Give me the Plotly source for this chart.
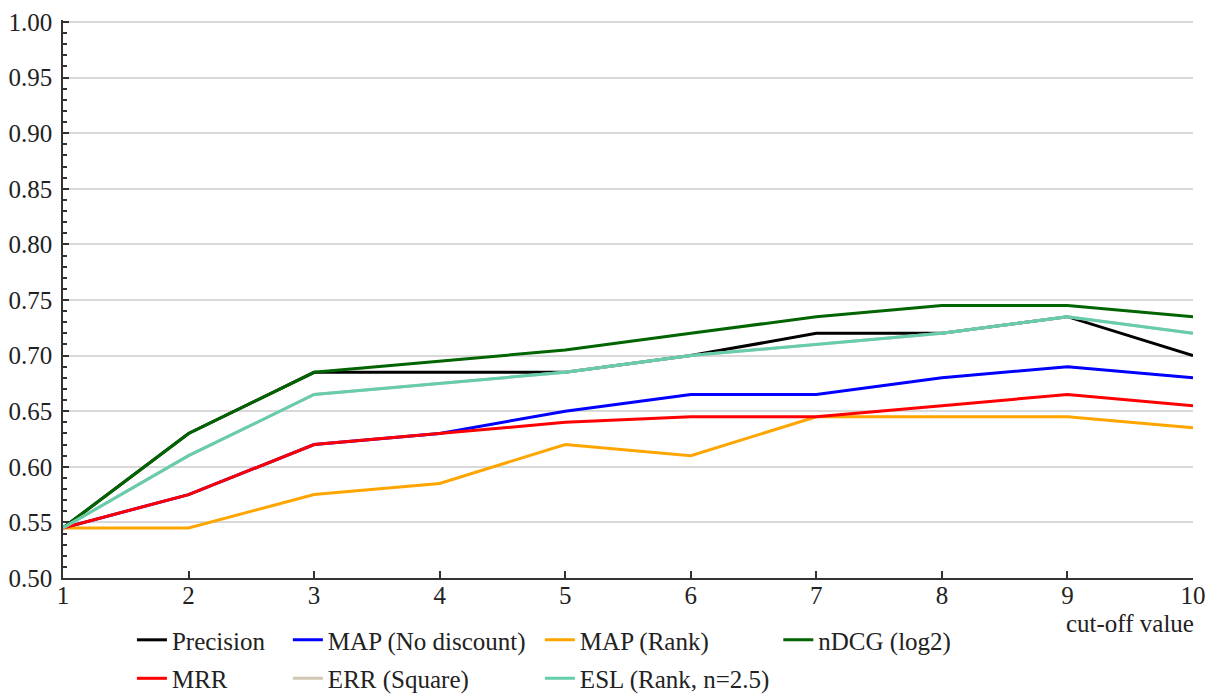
import plotly.graph_objects as go

cutoff = [1, 2, 3, 4, 5, 6, 7, 8, 9, 10]

precision = [0.545, 0.63, 0.685, 0.685, 0.685, 0.70, 0.72, 0.72, 0.735, 0.70]
map_nodisc = [0.545, 0.575, 0.62, 0.63, 0.65, 0.665, 0.665, 0.68, 0.69, 0.68]
map_rank = [0.545, 0.545, 0.575, 0.585, 0.62, 0.61, 0.645, 0.645, 0.645, 0.635]
ndcg = [0.545, 0.63, 0.685, 0.695, 0.705, 0.72, 0.735, 0.745, 0.745, 0.735]
mrr = [0.545, 0.575, 0.62, 0.63, 0.64, 0.645, 0.645, 0.655, 0.665, 0.655]
err_sq = [0.545, 0.61, 0.665, 0.675, 0.685, 0.70, 0.71, 0.72, 0.735, 0.72]
esl = [0.545, 0.61, 0.665, 0.675, 0.685, 0.70, 0.71, 0.72, 0.735, 0.72]

names = ["Precision", "MAP (No discount)", "MAP (Rank)", "nDCG (log2)",
         "MRR", "ERR (Square)", "ESL (Rank, n=2.5)"]
series = [precision, map_nodisc, map_rank, ndcg, mrr, err_sq, esl]
colors = ["#000000", "#0000ff", "#ffa500", "#006400", "#ff0000", "#d2c8b4", "#66cdaa"]
# legend column for each series (4 columns, 2 rows like the original)
legend_of = ["legend", "legend2", "legend3", "legend4", "legend", "legend2", "legend3"]

y_ticks = [0.50, 0.55, 0.60, 0.65, 0.70, 0.75, 0.80, 0.85, 0.90, 0.95, 1.00]

FONT = "Liberation Serif, Times New Roman, serif"
FS = 25

fig = go.Figure()
for name, ys, c, lg in zip(names, series, colors, legend_of):
    fig.add_trace(go.Scatter(x=cutoff, y=ys, name=name, mode="lines",
                             line=dict(color=c, width=3),
                             legend=lg, legendgroup=name))

leg = dict(orientation="v", yanchor="top", y=-0.07, xanchor="left",
           traceorder="grouped", tracegroupgap=3, bgcolor="rgba(0,0,0,0)",
           font=dict(family=FONT, size=FS, color="#222"))

# page body has an 8px offset, so the figure is 8px smaller than the window
fig.update_layout(
    width=1207, height=687,
    margin=dict(l=55, r=22, t=12, b=117, autoexpand=False),
    plot_bgcolor="white", paper_bgcolor="white",
    font=dict(family=FONT, size=FS, color="#222"),
    legend=dict(leg, x=0.061),
    legend2=dict(leg, x=0.199),
    legend3=dict(leg, x=0.422),
    legend4=dict(leg, x=0.633),
    xaxis=dict(range=[1, 10], dtick=1, showgrid=False, zeroline=False,
               showline=True, linecolor="#333", linewidth=1.5,
               ticks="inside", ticklen=7, tickcolor="#333", tickwidth=1.5,
               ticklabelstandoff=-6,
               tickfont=dict(family=FONT, size=FS, color="#222")),
    yaxis=dict(range=[0.5, 1.0018], tickvals=y_ticks, tickformat=".2f",
               showgrid=True, gridcolor="#d9d9d9", gridwidth=1.5, zeroline=False,
               showline=True, linecolor="#333", linewidth=1.5,
               ticks="inside", ticklen=6, tickcolor="#333", tickwidth=1.5,
               ticklabelstandoff=4,
               minor=dict(dtick=0.01, tick0=0.5, ticks="inside", ticklen=4,
                          tickcolor="#333", tickwidth=1.5, showgrid=False),
               tickfont=dict(family=FONT, size=FS, color="#222")),
)

fig.add_annotation(text="cut-off value", xref="paper", yref="paper",
                   x=1.003, y=-0.081, xanchor="right", yanchor="middle",
                   showarrow=False, font=dict(family=FONT, size=FS, color="#222"))

fig.write_html("out.html")
